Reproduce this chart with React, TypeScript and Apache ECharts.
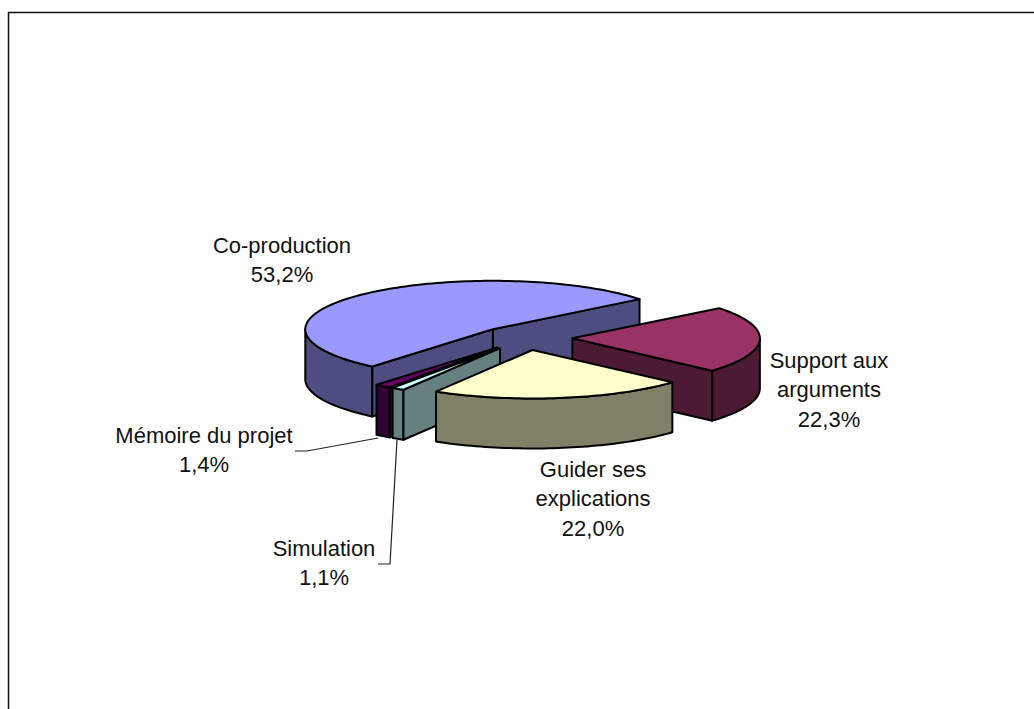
import React, { useEffect, useRef } from "react";
import * as echarts from "echarts";

const categories = ["Co-production", "Mémoire du projet", "Simulation", "Guider ses explications", "Support aux arguments"];
const labelLines = [["Co-production"], ["Mémoire du projet"], ["Simulation"], ["Guider ses", "explications"], ["Support aux", "arguments"]];
const values = [53.2, 1.4, 1.1, 22.0, 22.3];
const topColors = ["#9999FF", "#660066", "#CCFFFF", "#FFFFCC", "#993366"];
const sideColors = ["#4D4D80", "#330033", "#668080", "#808066", "#4D1A33"];
const drawOrder = [0, 1, 2, 4, 3];

const labelCenters = [[282, 245], [204, 435], [324, 548], [593, 469], [829, 360]];
const leaders: (number[][] | null)[] = [
  null,
  [[378, 438], [307, 451], [295, 451]],
  [[397, 440], [390, 564], [378, 564]],
  null,
  null,
];

const CX = 525.5, CY = 338, RX = 187.5, RY = 48.5, DEPTH = 50, EXPLODE = 0.25, START = 38.5;
const FONT = "Liberation Sans, Arial, sans-serif";
const FONT_SIZE = 22, LINE_H = 29.5;
const rad = (d: number) => (d * Math.PI) / 180;

export default function App() {
  const ref = useRef<HTMLDivElement>(null);
  useEffect(() => {
    document.body.style.margin = "0";
    const chart = echarts.init(ref.current!, null, { renderer: "svg" });
    const total = values.reduce((a, b) => a + b, 0);
    const starts: number[] = [];
    let acc = START;
    values.forEach((v) => {
      starts.push(acc);
      acc += (v / total) * 360;
    });
    const rows = drawOrder.map((i) => [values[i], starts[i], i]);

    const renderItem = (_: any, api: any) => {
      const value = api.value(0);
      const a0 = api.value(1);
      const idx = api.value(2);
      const a1 = a0 + (value / total) * 360;
      const mid = (a0 + a1) / 2;
      const ox = CX + EXPLODE * RX * Math.cos(rad(mid));
      const oy = CY - EXPLODE * RY * Math.sin(rad(mid));
      const pt = (d: number, dz = 0) => [ox + RX * Math.cos(rad(d)), oy - RY * Math.sin(rad(d)) + dz];
      const arc = (s: number, e: number, dz = 0) => {
        const n = Math.max(2, Math.ceil((e - s) / 1.5));
        const out: number[][] = [];
        for (let k = 0; k <= n; k++) out.push(pt(s + ((e - s) * k) / n, dz));
        return out;
      };
      const side = sideColors[idx];
      const line = { stroke: "#000", lineWidth: 2, lineJoin: "round" };
      const poly = (points: number[][], fill: string) => ({ type: "polygon", shape: { points }, style: { fill, ...line } });
      const cut = (d: number) => poly([[ox, oy], pt(d), pt(d, DEPTH), [ox, oy + DEPTH]], side);
      const children: any[] = [];
      // wall: parts of the rim on the near half of the ellipse
      for (let base = -720; base <= 720; base += 360) {
        const s = Math.max(a0, base + 180), e = Math.min(a1, base + 360);
        if (e > s) children.push(poly([...arc(s, e), ...arc(s, e, DEPTH).reverse()], side));
      }
      if (Math.cos(rad(a0)) > 0) children.push(cut(a0));
      if (Math.cos(rad(a1)) < 0) children.push(cut(a1));
      children.push(poly([[ox, oy], ...arc(a0, a1)], topColors[idx]));
      return { type: "group", children };
    };

    const graphics: any[] = [
      { type: "rect", shape: { x: 8.5, y: 12.5, width: 1100, height: 800 }, style: { fill: "#fff", stroke: "#111", lineWidth: 1.5 }, z: -10 },
    ];
    leaders.forEach((pts) => {
      if (pts) graphics.push({ type: "polyline", shape: { points: pts }, style: { stroke: "#222", lineWidth: 1.2, fill: "none" }, z: 5 });
    });
    categories.forEach((_, i) => {
      const lines = [...labelLines[i], values[i].toFixed(1).replace(".", ",") + "%"];
      lines.forEach((t, k) => {
        graphics.push({
          type: "text",
          x: labelCenters[i][0],
          y: labelCenters[i][1] + k * LINE_H,
          z: 6,
          style: { text: t, fill: "#111", font: `${FONT_SIZE}px ${FONT}`, align: "center", verticalAlign: "middle" },
        });
      });
    });

    chart.setOption({
      animation: false,
      backgroundColor: "#fff",
      graphic: graphics,
      series: [{ type: "custom", coordinateSystem: "none", renderItem, data: rows, silent: true, z: 3 }],
    });
    return () => chart.dispose();
  }, []);
  return <div ref={ref} style={{ position: "fixed", left: 0, top: 0, width: 1034, height: 709 }} />;
}
